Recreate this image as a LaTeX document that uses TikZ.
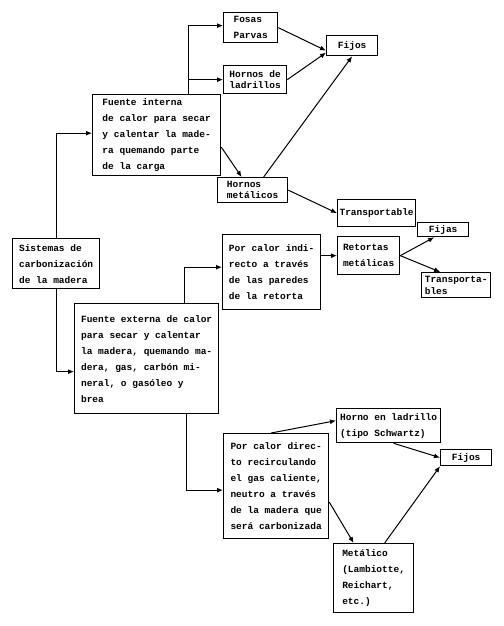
\documentclass[tikz,border=0pt]{standalone}
\usepackage{fontspec}
\setmonofont{Liberation Mono}
\usepackage{tikz}
\usetikzlibrary{positioning, arrows.meta, calc}

\begin{document}
\begin{tikzpicture}[x=1pt, y=-1pt,
    box/.style={draw, line width=1.3pt, anchor=north west, align=left, inner sep=0pt,
        font=\ttfamily\bfseries\fontsize{9.5}{16}\selectfont},
    tight/.style={box, font=\ttfamily\bfseries\fontsize{9.5}{11.5}\selectfont},
    arr/.style={line width=1pt, -{Latex[length=6pt, width=5pt]}}]
    \useasboundingbox (0,0) rectangle (503,626);
    % left column
    \node[box, minimum width=87pt, minimum height=50pt] (sis) at (12,238) {Sistemas de\\carbonización\\de la madera};
    \node[box, minimum width=128pt, minimum height=81pt] (interna) at (92,94) {Fuente interna\\de calor para secar\\y calentar la made-\\ra quemando parte\\de la carga};
    \node[box, minimum width=144pt, minimum height=110pt] (externa) at (74,303) {Fuente externa de calor\\para secar y calentar\\la madera, quemando ma-\\dera, gas, carbón mi-\\neral, o gasóleo y\\brea};
    % upper branch
    \node[box, minimum width=54pt, minimum height=30pt] (fosas) at (223,12) {Fosas\\Parvas};
    \node[tight, minimum width=63pt, minimum height=28pt] (ladr) at (223,65) {Hornos de\\ladrillos};
    \node[tight, minimum width=70pt, minimum height=25pt] (metal) at (217,177) {Hornos\\metálicos};
    \node[box, minimum width=51pt, minimum height=20pt] (fijosA) at (326,35) {Fijos};
    \node[box, minimum width=78pt, minimum height=27pt] (transp) at (337,199) {Transportable};
    % lower branches
    \node[box, minimum width=98pt, minimum height=75pt] (indir) at (222,234) {Por calor indi-\\recto a través\\de las paredes\\de la retorta};
    \node[box, minimum width=62pt, minimum height=38pt] (ret) at (337,236) {Retortas\\metálicas};
    \node[box, minimum width=51pt, minimum height=14pt] (fijas) at (417,222) {Fijas};
    \node[tight, minimum width=69pt, minimum height=25pt] (transpb) at (421,272) {Transporta-\\bles};
    \node[box, minimum width=105pt, minimum height=105pt] (dir) at (223,433) {Por calor direc-\\to recirculando\\el gas caliente,\\neutro a través\\de la madera que\\será carbonizada};
    \node[box, minimum width=104pt, minimum height=34pt] (horno) at (336,408) {Horno en ladrillo\\(tipo Schwartz)};
    \node[box, minimum width=51pt, minimum height=16pt] (fijosB) at (440,449) {Fijos};
    \node[box, minimum width=80pt, minimum height=69pt] (metB) at (333,543) {Metálico\\(Lambiotte,\\Reichart,\\etc.)};
    \coordinate (ia) at (188,94);
    \coordinate (ea) at (184,303);
    \coordinate (eb) at (186,413);

    \draw[arr] (sis.north) |- ([yshift=2pt]interna.west);
    \draw[arr] (sis.south) |- ([yshift=-13pt]externa.west);
    \draw[arr] (ia) |- ([yshift=2pt]fosas.west);
    \draw[arr] (ia |- ladr.west) -- (ladr.west);
    \draw[arr] ([yshift=-12pt]interna.east) -- ([xshift=-11pt]metal.north);
    \draw[arr] (fosas.east) -- ([yshift=-5pt]fijosA.west);
    \draw[arr] (ladr.east) -- ([yshift=-7pt]fijosA.west);
    \draw[arr] ([xshift=11pt]metal.north) -- (fijosA.south);
    \draw[arr] (metal.east) -- (transp.west);
    \draw[arr] (ea) |- ([yshift=5pt]indir.west);
    \draw[arr] (indir.east |- ret.west) -- (ret.west);
    \draw[arr] (ret.east) -- ([xshift=-9pt]fijas.south);
    \draw[arr] (ret.east) -- ([xshift=-16pt]transpb.north);
    \draw[arr] (eb) |- ([yshift=-4pt]dir.west);
    \draw[arr] ([xshift=-5pt]dir.north) -- ([yshift=5pt]horno.west);
    \draw[arr] ([yshift=-16pt]dir.east) -- ([xshift=-20pt]metB.north);
    \draw[arr] ([xshift=5pt]horno.south) -- (fijosB.west);
    \draw[arr] ([xshift=11pt]metB.north) -- (fijosB.south west);
\end{tikzpicture}
\end{document}
